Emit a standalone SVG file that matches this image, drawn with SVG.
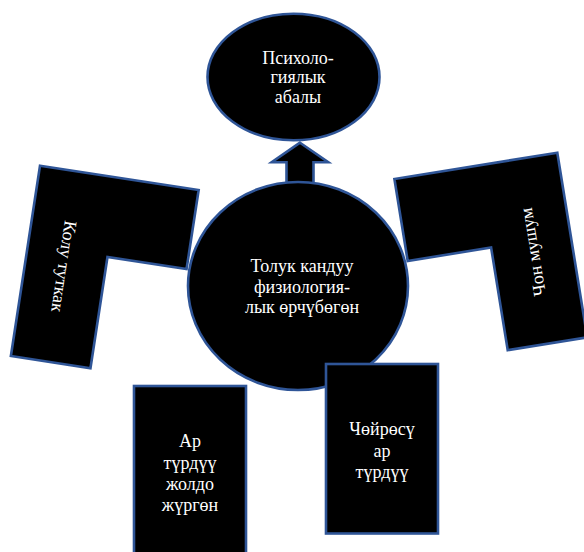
<svg xmlns="http://www.w3.org/2000/svg" width="584" height="552" viewBox="0 0 584 552">
<style>
.shape{fill:#000;stroke:#2F5597;stroke-width:2.6;stroke-linejoin:miter}
.lbl{fill:#fff;font-family:"Liberation Serif","Times New Roman",serif;font-size:18px;text-anchor:middle}
</style>
<rect width="584" height="552" fill="#fff"/>
<g id="node-kolu-tutkak" transform="translate(40,165.7) rotate(8.7)">
<path class="shape" d="M0,0 H160.5 V80 H80.5 V192.5 H0 Z"/>
<text class="lbl" transform="translate(39,96) rotate(90)" y="6">Колу туткак</text>
</g>
<g id="node-chon-mushum" transform="translate(557.3,152.7) rotate(-9.2)">
<path class="shape" d="M0,0 H-165 V83 H-80.5 V187 H0 Z"/>
<text class="lbl" transform="translate(-40,94) rotate(-90)" y="6">Чон мушум</text>
</g>
<g id="node-psikhologiyalyk">
<ellipse class="shape" cx="293.5" cy="77" rx="86" ry="63.3"/>
<text class="lbl"><tspan x="298" y="63.5">Психоло-</tspan><tspan x="298" y="83.3">гиялык</tspan><tspan x="298" y="102.8">абалы</tspan></text>
</g>
<g id="connectors">
<polygon class="shape" points="300,142.7 328.3,162.3 313.5,162.3 313.5,190 286.5,190 286.5,162.3 271.7,162.3"/>
</g>
<g id="node-toluk">
<ellipse class="shape" cx="298" cy="286" rx="110" ry="104"/>
<text class="lbl"><tspan x="302" y="271.7">Толук кандуу</tspan><tspan x="302" y="292.7">физиология-</tspan><tspan x="302" y="313">лык өрчүбөгөн</tspan></text>
</g>
<g id="node-ar-turduu-joldo">
<rect class="shape" x="134" y="386" width="112" height="180"/>
<text class="lbl"><tspan x="190" y="447">Ар</tspan><tspan x="190" y="468.5">түрдүү</tspan><tspan x="190" y="490">жолдо</tspan><tspan x="190" y="511">жүргөн</tspan></text>
</g>
<g id="node-choyrosu">
<rect class="shape" x="326" y="364" width="112" height="169.5"/>
<text class="lbl"><tspan x="382" y="435">Чөйрөсү</tspan><tspan x="382" y="456.7">ар</tspan><tspan x="382" y="478.3">түрдүү</tspan></text>
</g>
</svg>
